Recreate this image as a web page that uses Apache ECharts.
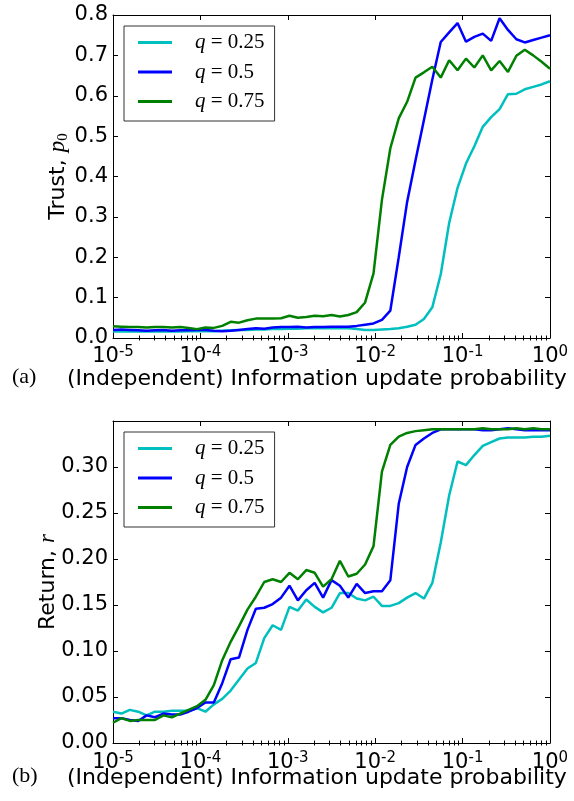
<!DOCTYPE html>
<html><head><meta charset="utf-8">
<script src="https://cdn.jsdelivr.net/npm/echarts@6/dist/echarts.min.js"></script>
<style>html,body{margin:0;padding:0;background:#fff}#c{width:574px;height:801px}</style>
</head><body><div id="c"></div>
<script>
// x: information update probability (log-spaced samples)
const probability = [
 1.000e-5,1.248e-5,1.557e-5,1.943e-5,2.424e-5,3.025e-5,3.774e-5,4.709e-5,5.876e-5,7.331e-5,9.148e-5,
 1.142e-4,1.425e-4,1.778e-4,2.219e-4,2.769e-4,3.455e-4,4.310e-4,5.378e-4,6.711e-4,8.373e-4,
 1.045e-3,1.304e-3,1.627e-3,2.031e-3,2.534e-3,3.162e-3,3.946e-3,4.923e-3,6.143e-3,7.665e-3,
 9.567e-3,1.194e-2,1.490e-2,1.859e-2,2.319e-2,2.894e-2,3.611e-2,4.505e-2,5.623e-2,7.017e-2,
 8.755e-2,0.1093,0.1363,0.1701,0.2122,0.2649,0.3305,0.4124,0.5145,0.6420,0.8011,1.0
];
// (a) Trust p0
const trustQ025 = [
 0.016,0.016,0.017,0.016,0.016,0.016,0.017,0.016,0.016,0.017,0.017,
 0.017,0.017,0.018,0.019,0.020,0.020,0.021,0.021,0.022,0.022,
 0.023,0.023,0.024,0.024,0.024,0.024,0.024,0.024,0.022,0.020,
 0.020,0.021,0.022,0.024,0.028,0.033,0.047,0.076,0.158,0.285,
 0.372,0.432,0.475,0.523,0.547,0.567,0.604,0.605,0.616,0.622,0.628,0.636
];
const trustQ050 = [
 0.020,0.021,0.020,0.019,0.018,0.019,0.020,0.018,0.019,0.019,0.020,
 0.020,0.018,0.017,0.018,0.020,0.022,0.024,0.023,0.026,0.027,
 0.027,0.028,0.026,0.027,0.027,0.028,0.028,0.028,0.030,0.033,
 0.036,0.045,0.068,0.200,0.337,0.440,0.540,0.640,0.733,0.757,
 0.780,0.734,0.746,0.754,0.736,0.792,0.763,0.740,0.732,0.738,0.744,0.750
];
const trustQ075 = [
 0.029,0.028,0.027,0.027,0.026,0.027,0.027,0.026,0.027,0.025,0.022,
 0.026,0.025,0.030,0.040,0.038,0.044,0.048,0.048,0.048,0.049,
 0.055,0.050,0.052,0.055,0.054,0.057,0.053,0.057,0.064,0.088,
 0.160,0.342,0.470,0.544,0.585,0.645,0.658,0.672,0.645,0.688,
 0.663,0.692,0.670,0.700,0.663,0.686,0.659,0.699,0.714,0.700,0.684,0.667
];
// (b) Return r
const returnQ025 = [
 0.034,0.032,0.036,0.034,0.030,0.034,0.034,0.035,0.035,0.035,0.038,
 0.034,0.042,0.048,0.057,0.069,0.081,0.087,0.114,0.128,0.123,
 0.148,0.144,0.156,0.148,0.142,0.147,0.163,0.163,0.157,0.155,
 0.159,0.149,0.149,0.152,0.158,0.163,0.157,0.174,0.218,0.269,
 0.306,0.302,0.313,0.323,0.327,0.331,0.332,0.332,0.332,0.333,0.333,0.334
];
const returnQ050 = [
 0.027,0.027,0.025,0.024,0.030,0.028,0.032,0.031,0.031,0.034,0.038,
 0.044,0.044,0.065,0.091,0.093,0.123,0.146,0.147,0.151,0.158,
 0.171,0.155,0.166,0.174,0.158,0.177,0.171,0.158,0.173,0.163,
 0.165,0.165,0.177,0.260,0.300,0.324,0.331,0.337,0.341,0.341,
 0.341,0.341,0.341,0.340,0.340,0.341,0.342,0.341,0.340,0.340,0.340,0.340
];
const returnQ075 = [
 0.022,0.027,0.024,0.025,0.025,0.025,0.030,0.028,0.032,0.036,0.040,
 0.047,0.063,0.090,0.110,0.127,0.145,0.159,0.175,0.178,0.175,
 0.185,0.178,0.188,0.185,0.170,0.178,0.198,0.181,0.184,0.194,
 0.214,0.295,0.324,0.333,0.337,0.339,0.340,0.341,0.341,0.341,
 0.341,0.341,0.341,0.342,0.341,0.341,0.341,0.342,0.341,0.342,0.341,0.341
];
const seriesNames = ['q=0.25','q=0.5','q=0.75'];
const trustTickLabels = ['0.0','0.1','0.2','0.3','0.4','0.5','0.6','0.7','0.8'];
const returnTickLabels = ['0.00','0.05','0.10','0.15','0.20','0.25','0.30'];
const minorMultipliers = [2,3,4,5,6,7,8,9];
const decadeStarts = [1e-5,1e-4,1e-3,1e-2,1e-1];

const colors = ['#00bfbf','#0000ff','#008000'];
const SANS = 'DejaVu Sans';
const SERIF = 'Liberation Serif';
const minorTicks = [];
decadeStarts.forEach(d => minorMultipliers.forEach(m => minorTicks.push(m * d)));

function xAxesFor(g, margin) {
  const base = {type:'log', logBase:10, gridIndex:g, min:1e-5, max:1,
    splitLine:{show:false}, minorTick:{show:false}, minorSplitLine:{show:false}};
  const lbl = {
    show:true, margin:margin,
    formatter: v => '{b|10}{s|' + Math.round(Math.log10(v)) + '}',
    rich:{
      b:{fontFamily:SANS, fontSize:21, color:'#000', lineHeight:24},
      s:{fontFamily:SANS, fontSize:15, color:'#000', verticalAlign:'top', lineHeight:15}
    }
  };
  return [
    Object.assign({}, base, {position:'bottom',
      axisLine:{show:true, onZero:false, lineStyle:{color:'#000', width:1}},
      axisTick:{show:true, inside:true, length:5, lineStyle:{color:'#000'}},
      axisLabel:lbl}),
    Object.assign({}, base, {position:'bottom',
      axisLine:{show:false},
      axisTick:{show:true, inside:true, length:2.5, customValues:minorTicks, lineStyle:{color:'#000'}},
      axisLabel:{show:false}}),
    Object.assign({}, base, {position:'top',
      axisLine:{show:true, onZero:false, lineStyle:{color:'#000', width:1}},
      axisTick:{show:true, inside:true, length:5, lineStyle:{color:'#000'}},
      axisLabel:{show:false}}),
    Object.assign({}, base, {position:'top',
      axisLine:{show:false},
      axisTick:{show:true, inside:true, length:2.5, customValues:minorTicks, lineStyle:{color:'#000'}},
      axisLabel:{show:false}})
  ];
}
function yAxesFor(g, max, interval, labels) {
  const base = {type:'value', gridIndex:g, min:0, max:max, interval:interval, splitLine:{show:false},
    axisLine:{show:true, onZero:false, lineStyle:{color:'#000', width:1}},
    axisTick:{show:true, inside:true, length:5, lineStyle:{color:'#000'}}};
  return [
    Object.assign({}, base, {position:'left',
      axisLabel:{show:true, margin:5, fontFamily:SANS, fontSize:21, color:'#000',
        formatter:(v) => { const i = Math.round(v / interval); return labels[i] !== undefined ? labels[i] : ''; }}}),
    Object.assign({}, base, {position:'right', axisLabel:{show:false}})
  ];
}
function lineSeries(name, data, color, xi, yi) {
  return {type:'line', name:name, xAxisIndex:xi, yAxisIndex:yi, showSymbol:false, symbol:'none',
    data: probability.map((p, i) => [p, data[i]]),
    lineStyle:{color:color, width:2.5}, itemStyle:{color:color}, animation:false, clip:true};
}
function legendFor(top) {
  return {
    orient:'vertical', left:124, top:top, padding:[6,10,9,14], itemGap:8.5,
    itemWidth:34, itemHeight:3, icon:'rect', selectedMode:false,
    borderColor:'#333', borderWidth:1, borderRadius:0, backgroundColor:'#fff',
    data: seriesNames,
    formatter: name => '{g|}{i|q}{r| = ' + name.split('=')[1] + '}',
    textStyle:{rich:{
      g:{width:18},
      i:{fontFamily:SERIF, fontStyle:'italic', fontSize:21, color:'#000', lineHeight:24},
      r:{fontFamily:SERIF, fontSize:21, color:'#000', lineHeight:24}
    }}
  };
}

const chart = echarts.init(document.getElementById('c'), null, {renderer:'canvas'});
chart.setOption({
  animation:false,
  backgroundColor:'#fff',
  grid:[
    {left:113, top:15, width:437, height:323},
    {left:113, top:421, width:437, height:322}
  ],
  xAxis: xAxesFor(0, 7).concat(xAxesFor(1, 8)),
  yAxis: yAxesFor(0, 0.8, 0.1, trustTickLabels).concat(yAxesFor(1, 0.35, 0.05, returnTickLabels)),
  legend:[legendFor(26), legendFor(432)],
  series:[
    lineSeries(seriesNames[0], trustQ025, colors[0], 0, 0),
    lineSeries(seriesNames[1], trustQ050, colors[1], 0, 0),
    lineSeries(seriesNames[2], trustQ075, colors[2], 0, 0),
    lineSeries(seriesNames[0], returnQ025, colors[0], 4, 2),
    lineSeries(seriesNames[1], returnQ050, colors[1], 4, 2),
    lineSeries(seriesNames[2], returnQ075, colors[2], 4, 2)
  ],
  graphic:[
    {type:'text', x:12, y:377, style:{text:'(a)', font:'22px "Liberation Serif"', fill:'#000', textVerticalAlign:'middle'}},
    {type:'text', x:67, y:379, style:{text:'(Independent) Information update probability', font:'22px "DejaVu Sans"', fill:'#000', textVerticalAlign:'middle'}},
    {type:'text', x:12, y:776, style:{text:'(b)', font:'22px "Liberation Serif"', fill:'#000', textVerticalAlign:'middle'}},
    {type:'text', x:67, y:778, style:{text:'(Independent) Information update probability', font:'22px "DejaVu Sans"', fill:'#000', textVerticalAlign:'middle'}},
    {type:'text', x:58, y:176.5, rotation:Math.PI/2, style:{
      text:'{t|Trust, }{p|p}{s|0}', textAlign:'center', textVerticalAlign:'middle',
      rich:{
        t:{fontFamily:SANS, fontSize:22, fill:'#000', lineHeight:26},
        p:{fontFamily:SERIF, fontStyle:'italic', fontSize:23, fill:'#000', lineHeight:26},
        s:{fontFamily:SERIF, fontSize:15, fill:'#000', verticalAlign:'bottom', lineHeight:12}
      }}},
    {type:'text', x:48, y:582, rotation:Math.PI/2, style:{
      text:'{t|Return, }{r|r}', textAlign:'center', textVerticalAlign:'middle',
      rich:{
        t:{fontFamily:SANS, fontSize:22, fill:'#000', lineHeight:26},
        r:{fontFamily:SERIF, fontStyle:'italic', fontSize:23, fill:'#000', lineHeight:26}
      }}}
  ]
});
</script></body></html>
